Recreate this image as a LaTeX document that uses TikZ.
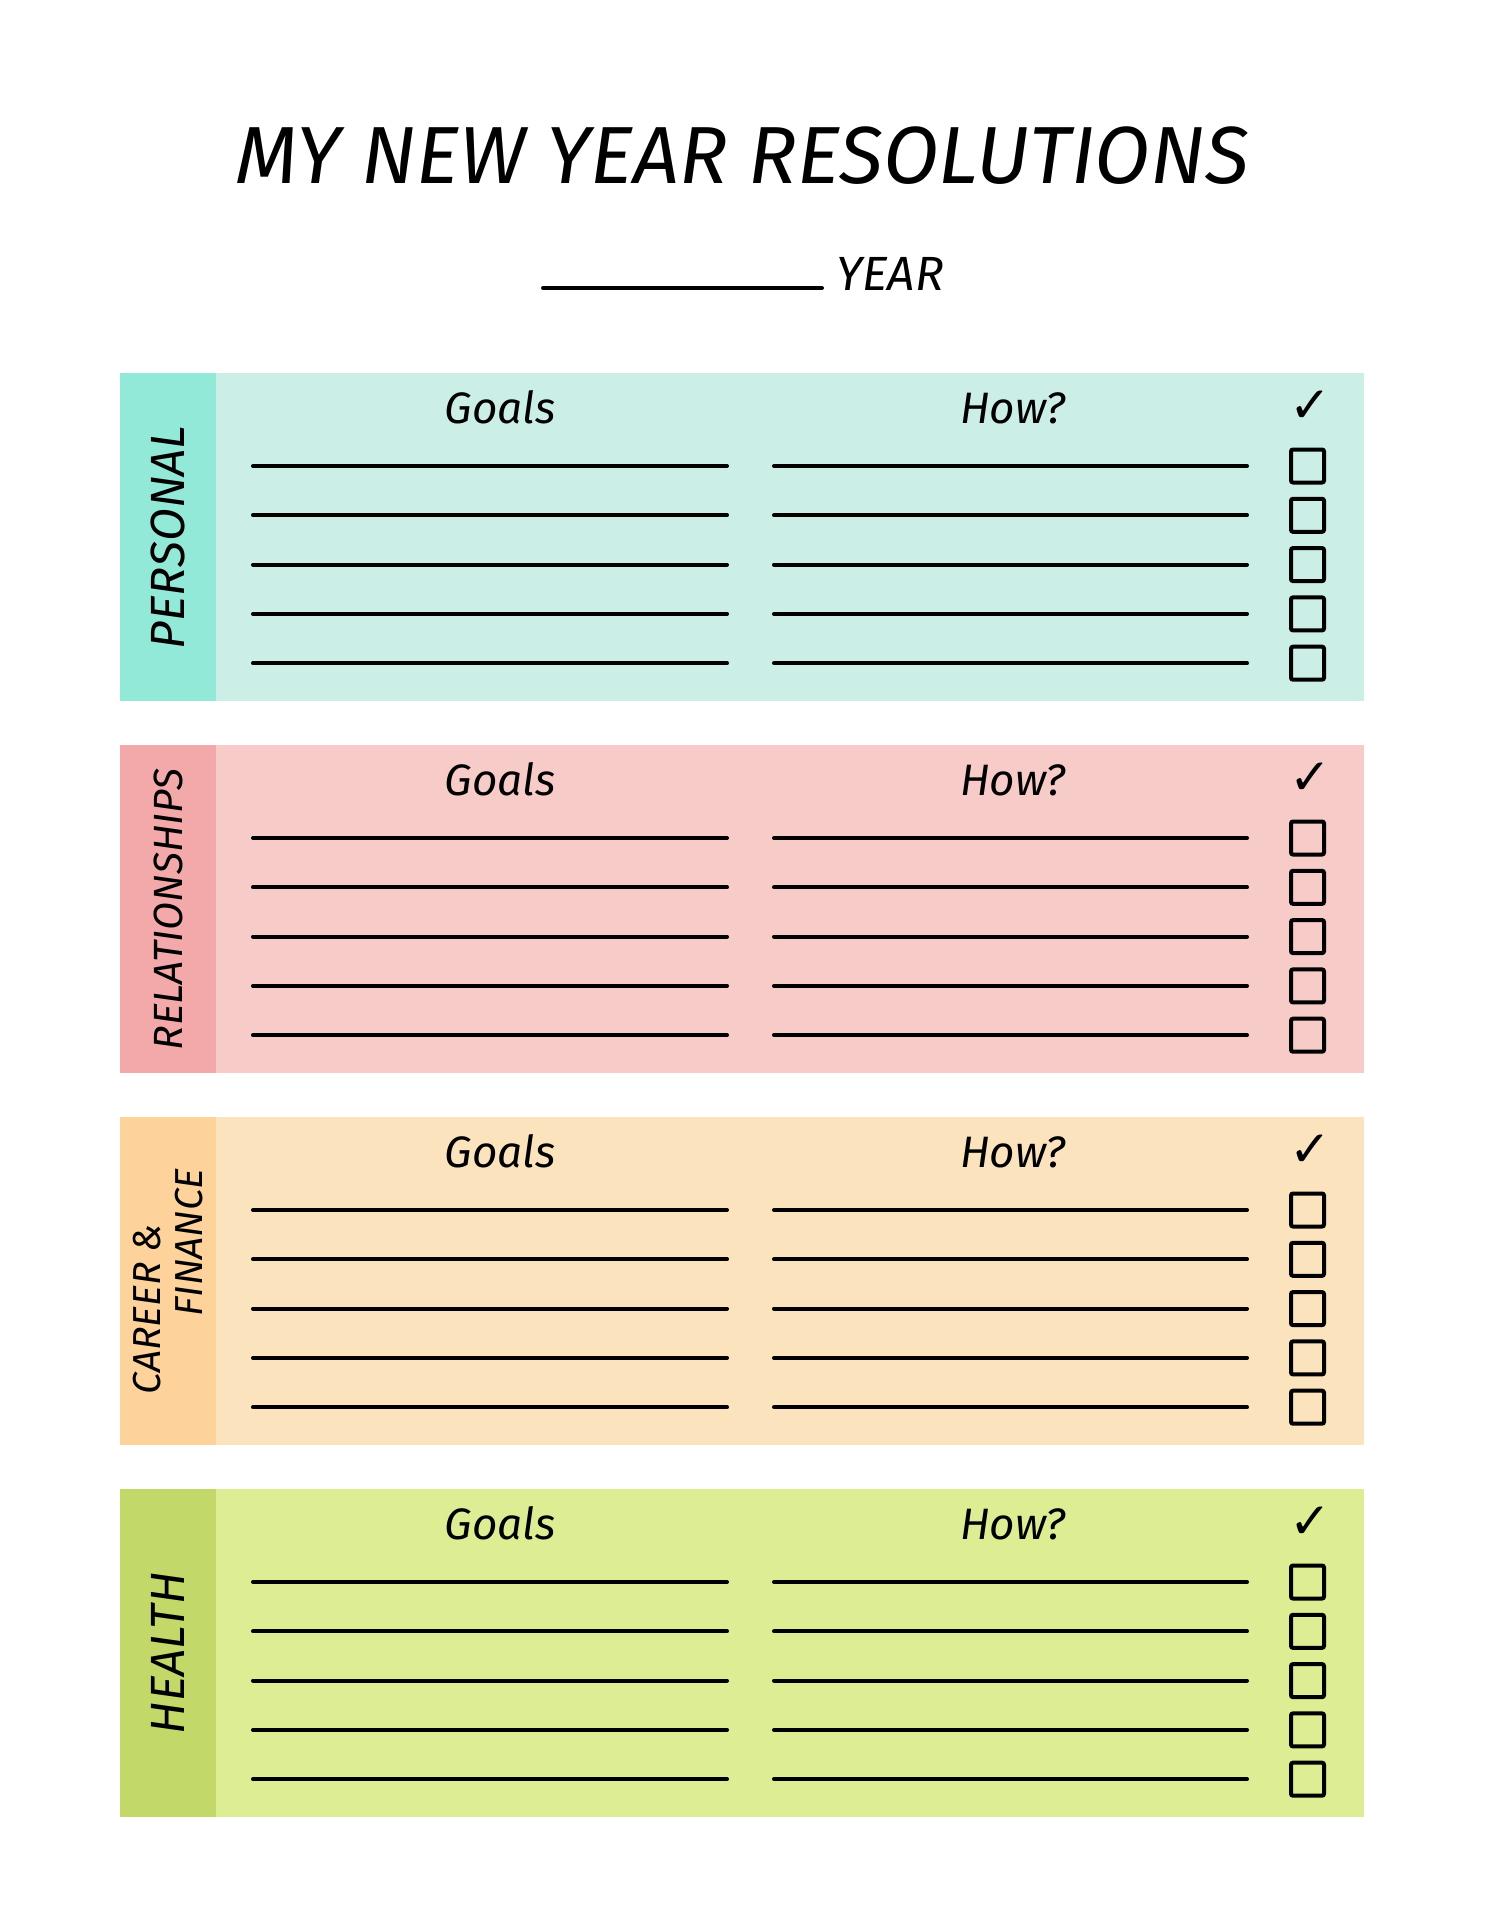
\documentclass[tikz,border=0pt]{standalone}
\usepackage{fontspec}
\setmainfont{Fira Sans}
\newfontfamily\symfont{DejaVu Sans}
\usetikzlibrary{positioning}

\definecolor{persdark}{HTML}{93E9D8}
\definecolor{perslight}{HTML}{CBEEE7}
\definecolor{reldark}{HTML}{F3A8A9}
\definecolor{rellight}{HTML}{F7CBC7}
\definecolor{cardark}{HTML}{FDD39B}
\definecolor{carlight}{HTML}{FBE3BE}
\definecolor{headark}{HTML}{C2D96A}
\definecolor{healight}{HTML}{DDED93}

\tikzset{
  band/.style={fill=#1, draw=none, anchor=north west, inner sep=0pt, minimum width=622pt, minimum height=164pt},
  strip/.style={fill=#1, draw=none, anchor=north west, inner sep=0pt, minimum width=48pt, minimum height=164pt},
  head/.style={anchor=base, inner sep=0pt, font=\fontsize{22}{26}\selectfont\itshape},
  sidelabel/.style={rotate=90, inner sep=0pt, align=left, font=\fontsize{#1}{21}\selectfont\itshape},
  rule/.style={line width=2pt, line cap=round},
  tick/.style={draw, line width=2pt, rounded corners=1pt, minimum size=16.5pt, inner sep=0pt},
  checkmark/.style={inner sep=0pt, font=\fontsize{25}{30}\symfont}
}

\begin{document}
\begin{tikzpicture}[x=0.5pt,y=-0.5pt]
  \useasboundingbox (0,0) rectangle (1484,1920);
  \node (title) [anchor=base, inner sep=0pt, font=\fontsize{40.5}{48}\selectfont\itshape] at (742,184) {MY NEW YEAR RESOLUTIONS};
  \coordinate (yearstart) at (543,288);
  \coordinate (yearend) at (822,288);
  \draw [rule] (yearstart) -- (yearend);
  \node (year) [anchor=base west, inner sep=0pt, font=\fontsize{24}{28}\selectfont\itshape] at (836,291) {YEAR};

  % one band per area
  \foreach \lab/\size/\dark/\light [count=\k from 0] in {
      PERSONAL/24/persdark/perslight,
      RELATIONSHIPS/20.4/reldark/rellight,
      {CAREER \&\\\hspace*{39pt}FINANCE}/19.5/cardark/carlight,
      HEALTH/24/headark/healight}{
    \node (band\k) [band=\light] at (120,373+372*\k) {};
    \node (strip\k) [strip=\dark] at (120,373+372*\k) {};
    \node (label\k) [sidelabel=\size] at (strip\k.center) {\lab};
    \node (goals\k) [head] at (500,423+372*\k) {Goals};
    \node (how\k) [head] at (1013,423+372*\k) {How?};
    \node (check\k) [checkmark] at (1310,407+372*\k) {✓};
    \foreach \i in {0,...,4}{
      \draw [rule] (253,466+372*\k+49.3*\i) -- (727,466+372*\k+49.3*\i);
      \draw [rule] (774,466+372*\k+49.3*\i) -- (1247,466+372*\k+49.3*\i);
      \node (box\k\i) [tick] at (1307.5,466+372*\k+49.3*\i) {};
    }
  }
\end{tikzpicture}
\end{document}
